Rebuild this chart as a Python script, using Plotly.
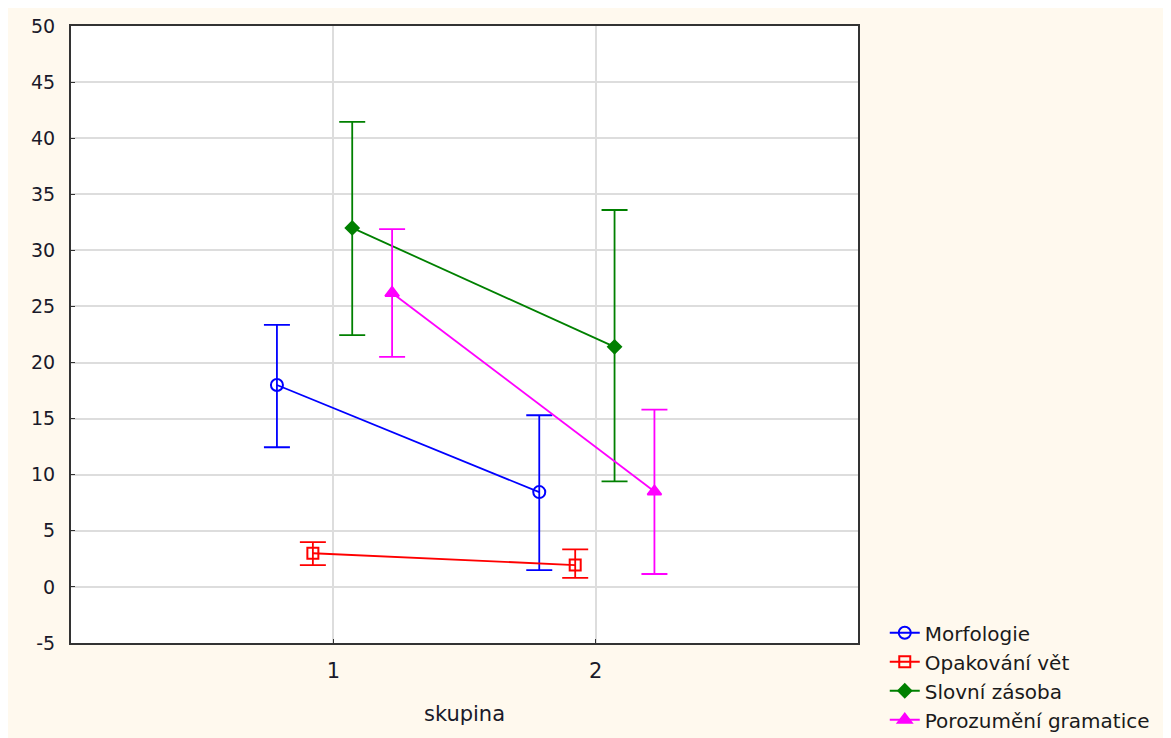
import plotly.graph_objects as go

groups = [1, 2]
series_names = ["Morfologie", "Opakování vět", "Slovní zásoba", "Porozumění gramatice"]
means = [
    [18.0, 8.45],
    [3.0, 1.95],
    [32.0, 21.4],
    [26.2, 8.5],
]
upper = [
    [23.35, 15.3],
    [4.0, 3.35],
    [41.45, 33.6],
    [31.9, 15.8],
]
lower = [
    [12.45, 1.5],
    [1.95, 0.8],
    [22.45, 9.4],
    [20.5, 1.15],
]
y_ticks = list(range(-5, 51, 5))

offsets = [-0.215, -0.078, 0.072, 0.224]
colors = ["#0000FF", "#FF0000", "#008000", "#FF00FF"]
symbols = ["circle-open", "square-open", "diamond", "triangle-up"]
msizes = [12, 11, 10, 12]

fig = go.Figure()
for i, name in enumerate(series_names):
    xs = [g + offsets[i] for g in groups]
    fig.add_trace(go.Scatter(
        x=xs, y=means[i], name=name, mode="lines+markers",
        line=dict(color=colors[i], width=1.8),
        marker=dict(symbol=symbols[i], size=msizes[i], color=colors[i],
                    line=dict(color=colors[i], width=2)),
        error_y=dict(type="data", symmetric=False,
                     array=[u - m for u, m in zip(upper[i], means[i])],
                     arrayminus=[m - l for m, l in zip(means[i], lower[i])],
                     color=colors[i], thickness=1.8, width=13),
    ))

fig.update_layout(
    width=1163, height=730,
    margin=dict(l=63, r=313, t=18, b=95, autoexpand=False),
    paper_bgcolor="#FFF9EE", plot_bgcolor="#FFFFFF",
    font=dict(family="DejaVu Sans, Verdana, sans-serif", size=18, color="#1a1a2a"),
    showlegend=True,
    legend=dict(x=1.034, xanchor="left", y=-0.156, yanchor="bottom",
                bgcolor="rgba(0,0,0,0)", font=dict(size=20, color="#1a1a1a"),
                tracegroupgap=0, itemwidth=30),
)
fig.update_xaxes(
    range=[0, 3], tickvals=groups, ticktext=[str(g) for g in groups],
    tickfont=dict(size=21), ticklabelstandoff=8,
    showgrid=True, gridcolor="#DDDDDD", gridwidth=1.5,
    showline=True, linecolor="#333333", linewidth=2, mirror=True,
    ticks="inside", ticklen=4, tickcolor="#333333",
    title=dict(text="skupina", standoff=24, font=dict(size=21)),
    zeroline=False,
)
fig.update_yaxes(
    range=[-5, 50], tickvals=y_ticks, ticktext=[str(v) for v in y_ticks],
    tickfont=dict(size=19), ticklabelstandoff=10,
    showgrid=True, gridcolor="#DDDDDD", gridwidth=1.5,
    showline=True, linecolor="#333333", linewidth=2, mirror=True,
    ticks="inside", ticklen=4, tickcolor="#333333",
    zeroline=False,
)

fig.write_html("out.html")
